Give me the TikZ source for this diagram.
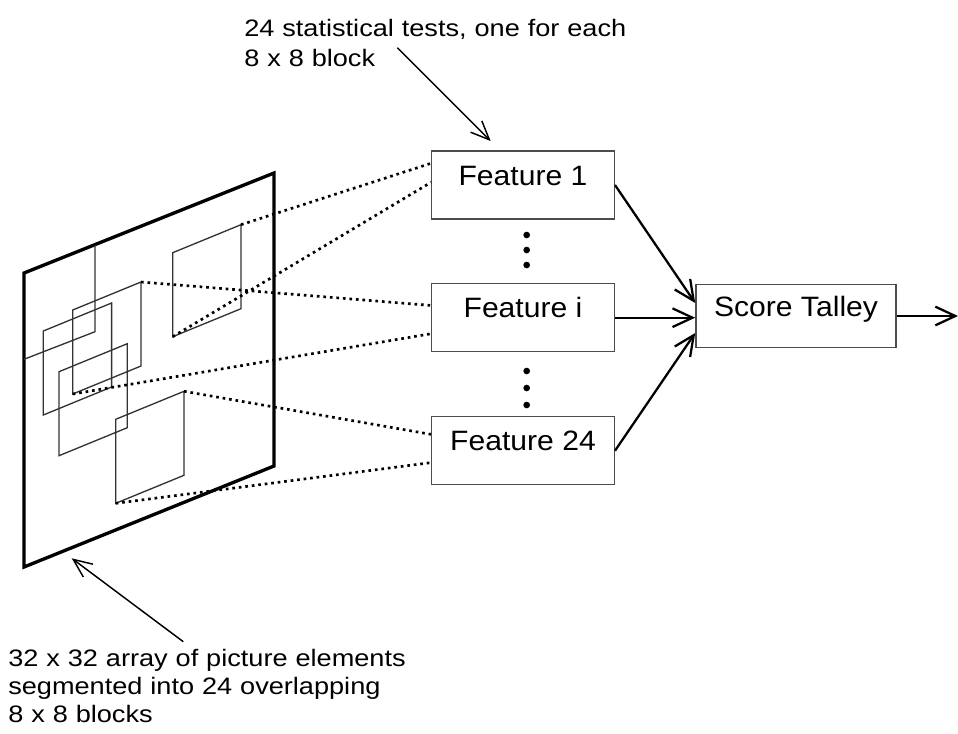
\documentclass[tikz,border=0pt]{standalone}
\usepackage{fontspec}
\setmainfont{Liberation Sans}
\newfontfamily\notefont[FakeStretch=1.14]{Liberation Sans}
\newfontfamily\featfont[FakeStretch=1.075]{Liberation Sans}
\usetikzlibrary{arrows.meta,calc}
\begin{document}
\begin{tikzpicture}[x=0.75pt,y=-0.75pt,
  feat/.style={draw=black!70, line width=1pt, minimum width=137pt, minimum height=51pt,
    inner sep=0pt, text height=16pt, text depth=16pt,
    font=\featfont\fontsize{21pt}{25pt}\selectfont},
  note/.style={inner sep=0pt, align=left, font=\notefont\fontsize{17.85pt}{23pt}\selectfont},
  blockline/.style={draw=black!80, line width=1pt},
  outerline/.style={draw=black, line width=2.5pt, line join=miter},
  dotline/.style={line width=2pt, dash pattern=on 2pt off 2.9pt},
  conn/.style={line width=1.7pt, -{Straight Barb[length=15pt,width=14pt]}},
  annot/.style={line width=1.1pt, -{Straight Barb[length=14pt,width=12pt]}},
  dotnode/.style={circle, fill=black, inner sep=0pt, minimum size=5pt},
  blk/.pic={
    \draw[blockline] (0,0) -- (68.3,-28) -- (68.3,56) -- (0,84) -- cycle;
    \coordinate (-tr) at (68.3,-28);
    \coordinate (-bl) at (0,84);
  }
]
\useasboundingbox (0,0) rectangle (958,733);

% picture array (outer frame)
\draw[outerline] (24,273) -- (274,173) -- (274,466) -- (24,567) -- cycle;

% 8 x 8 blocks
\draw[blockline] (95,245) -- (95,331.7) -- (24,359.3);
\pic (A) at (172.7,252.7) {blk};
\pic (C) at (43.3,331) {blk};
\pic (D) at (72.7,310) {blk};
\pic (E) at (59,371.7) {blk};
\pic (F) at (115.7,419.3) {blk};

% feature boxes
\node[feat] (f1) at (523,185) {Feature 1};
\node[feat] (fi) at (523,317.7) {Feature i};
\node[feat] (f24) at (523,450.7) {Feature 24};
\node[feat, minimum width=150.2pt, minimum height=47.5pt] (score) at (796,316) {Score Talley};

% vertical ellipsis dots
\node[dotnode] (d1) at (526.7,235) {};
\node[dotnode] (d2) at (526.7,250) {};
\node[dotnode] (d3) at (526.7,265) {};
\node[dotnode] (d4) at (526.7,371) {};
\node[dotnode] (d5) at (526.7,388) {};
\node[dotnode] (d6) at (526.7,405) {};

% dotted projections
\draw[dotline] (A-tr) -- ($(f1.north west)+(0,13)$);
\draw[dotline] (A-bl) -- ($(f1.north west)+(0,32)$);
\draw[dotline] (D-tr) -- ($(fi.north west)+(0,22.4)$);
\draw[dotline] (D-bl) -- ($(fi.north west)+(0,50.7)$);
\draw[dotline] (F-tr) -- ($(f24.north west)+(0,18.3)$);
\draw[dotline] (F-bl) -- ($(f24.north west)+(0,46.6)$);

% connections to score talley
\draw[conn] (f1.east) -- ($(score.west)+(0,-13)$);
\draw[conn] (fi.east) -- (fi.east -| score.west);
\draw[conn] (f24.east) -- ($(score.west)+(0,17)$);
\coordinate (out) at (958,316);
\draw[conn] (score.east) -- (out);

% annotations
\node[note, text width=320pt, anchor=base west] (toptext) at (244,36)
  {24 statistical tests, one for each\\8 x 8 block};
\coordinate (ta) at (397.3,47.7);
\draw[annot] (ta) -- ($(f1.north)+(-32.3,-9.3)$);

\node[note, text width=320pt, anchor=base west, font=\notefont\fontsize{17.85pt}{20.8pt}\selectfont] (bottext) at (8,666.7)
  {32 x 32 array of picture elements\\segmented into 24 overlapping\\8 x 8 blocks};
\coordinate (ba) at (183.3,641.7);
\coordinate (bt) at (71.7,558.3);
\draw[annot] (ba) -- (bt);
\end{tikzpicture}
\end{document}
